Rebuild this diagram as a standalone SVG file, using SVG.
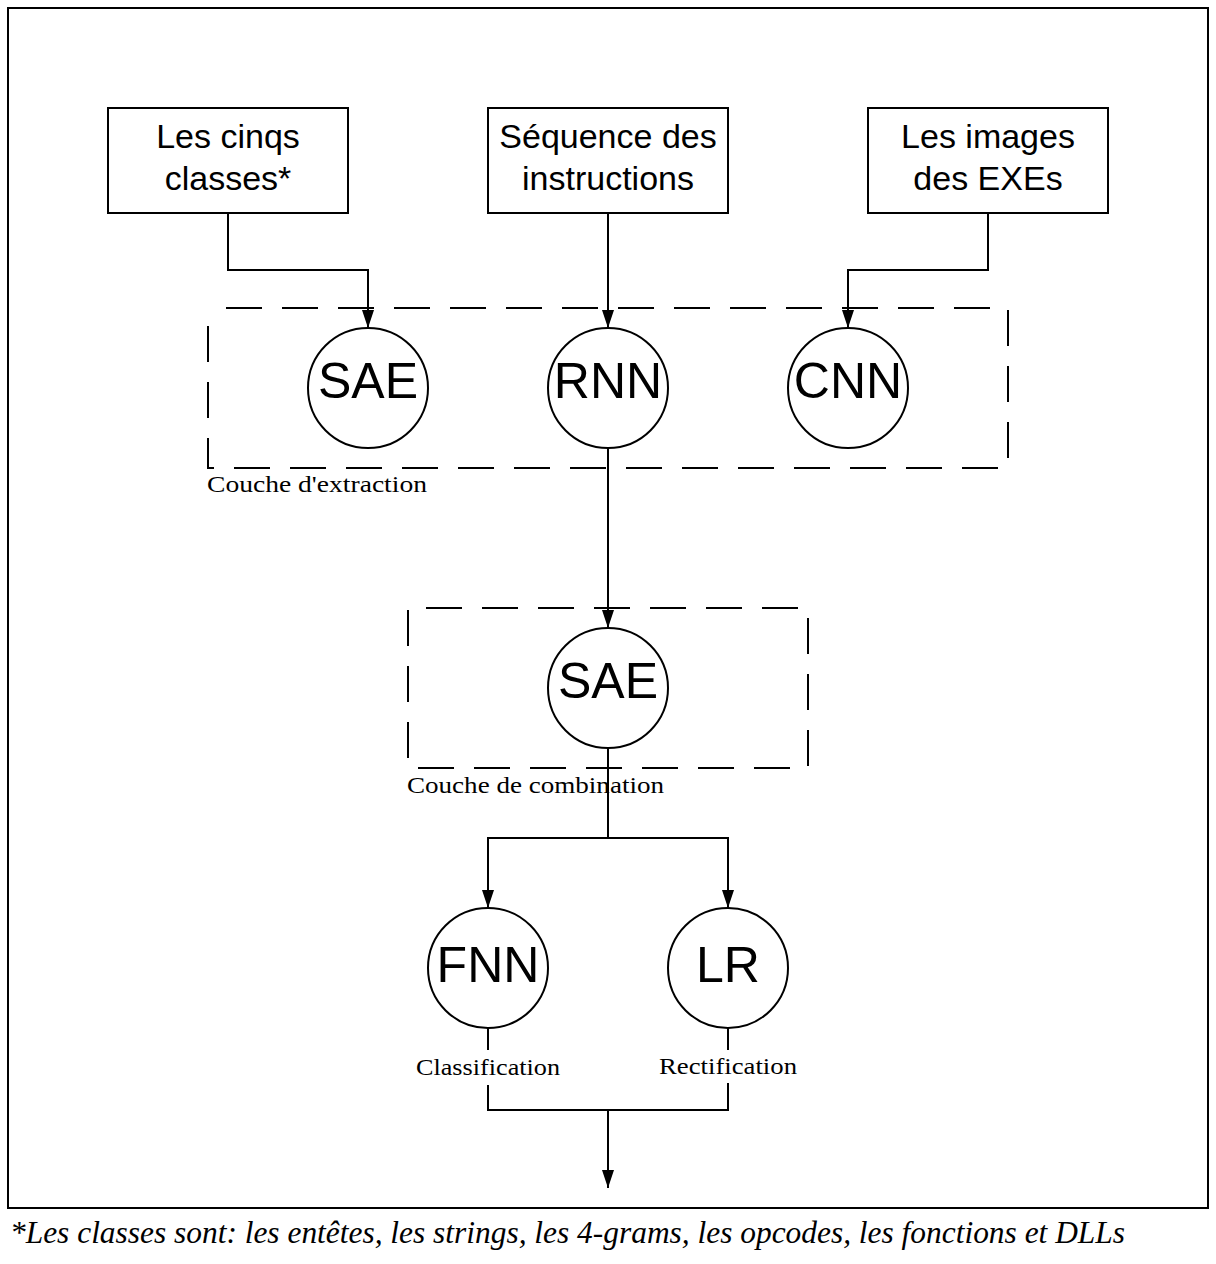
<svg xmlns="http://www.w3.org/2000/svg" width="1216" height="1264" viewBox="0 0 1216 1264">
<style>
.box{fill:#fff;stroke:#000;stroke-width:2}
.circ{fill:#fff;stroke:#000;stroke-width:2}
.dash{fill:none;stroke:#000;stroke-width:2;stroke-dasharray:36 20}
.edge{fill:none;stroke:#000;stroke-width:2}
.bt{font-family:"Liberation Sans",Arial,sans-serif;font-size:34px;text-anchor:middle;fill:#000}
.ct{font-family:"Liberation Sans",Arial,sans-serif;font-size:50px;text-anchor:middle;fill:#000}
.lbl{font-family:"Liberation Serif","DejaVu Serif",serif;font-size:24px;fill:#000}
.note{font-family:"Liberation Serif","DejaVu Serif",serif;font-style:italic;font-size:32px;fill:#000}
</style>
<defs>
<marker id="arr" markerUnits="userSpaceOnUse" markerWidth="20" markerHeight="14" refX="18" refY="7" orient="auto">
<path d="M0,1 L18,7 L0,13 z" fill="#000"/>
</marker>
</defs>
<rect x="0" y="0" width="1216" height="1264" fill="#fff"/>
<rect id="frame" x="8" y="8" width="1200" height="1200" fill="none" stroke="#000" stroke-width="2"/>

<g id="extraction-layer">
<rect class="dash" x="208" y="308" width="800" height="160" stroke-dashoffset="-18"/>
<text class="lbl" x="207" y="492" textLength="220" lengthAdjust="spacingAndGlyphs">Couche d'extraction</text>
</g>
<g id="combination-layer">
<rect class="dash" x="408" y="608" width="400" height="160" stroke-dashoffset="-18"/>
<text class="lbl" x="407" y="793" textLength="257" lengthAdjust="spacingAndGlyphs">Couche de combination</text>
</g>

<g id="connectors">
<path class="edge" d="M228,213 V270 H368 V328" marker-end="url(#arr)"/>
<path class="edge" d="M608,213 V328" marker-end="url(#arr)"/>
<path class="edge" d="M988,213 V270 H848 V328" marker-end="url(#arr)"/>
<path class="edge" d="M608,448 V628" marker-end="url(#arr)"/>
<path class="edge" d="M608,748 V838"/>
<path class="edge" d="M608,838 H488 V908" marker-end="url(#arr)"/>
<path class="edge" d="M608,838 H728 V908" marker-end="url(#arr)"/>
<path class="edge" d="M488,1028 V1050"/>
<path class="edge" d="M728,1028 V1050"/>
<path class="edge" d="M488,1085 V1110 H728 V1083"/>
<path class="edge" d="M608,1110 V1188" marker-end="url(#arr)"/>
</g>

<g id="node-cinqs-classes">
<rect class="box" x="108" y="108" width="240" height="105"/>
<text class="bt" x="228" y="148">Les cinqs</text>
<text class="bt" x="228" y="190">classes*</text>
</g>
<g id="node-sequence">
<rect class="box" x="488" y="108" width="240" height="105"/>
<text class="bt" x="608" y="148">Séquence des</text>
<text class="bt" x="608" y="190">instructions</text>
</g>
<g id="node-images">
<rect class="box" x="868" y="108" width="240" height="105"/>
<text class="bt" x="988" y="148">Les images</text>
<text class="bt" x="988" y="190">des EXEs</text>
</g>

<g id="node-sae1">
<circle class="circ" cx="368" cy="388" r="60"/>
<text class="ct" x="368" y="398">SAE</text>
</g>
<g id="node-rnn">
<circle class="circ" cx="608" cy="388" r="60"/>
<text class="ct" x="608" y="398">RNN</text>
</g>
<g id="node-cnn">
<circle class="circ" cx="848" cy="388" r="60"/>
<text class="ct" x="848" y="398">CNN</text>
</g>
<g id="node-sae2">
<circle class="circ" cx="608" cy="688" r="60"/>
<text class="ct" x="608" y="698">SAE</text>
</g>
<g id="node-fnn">
<circle class="circ" cx="488" cy="968" r="60"/>
<text class="ct" x="488" y="982">FNN</text>
<text class="lbl" x="416" y="1075" textLength="144" lengthAdjust="spacingAndGlyphs">Classification</text>
</g>
<g id="node-lr">
<circle class="circ" cx="728" cy="968" r="60"/>
<text class="ct" x="728" y="982">LR</text>
<text class="lbl" x="659" y="1074" textLength="138" lengthAdjust="spacingAndGlyphs">Rectification</text>
</g>

<text class="note" x="10" y="1243" textLength="1115" lengthAdjust="spacingAndGlyphs">*Les classes sont: les entêtes, les strings, les 4-grams, les opcodes, les fonctions et DLLs</text>
</svg>
